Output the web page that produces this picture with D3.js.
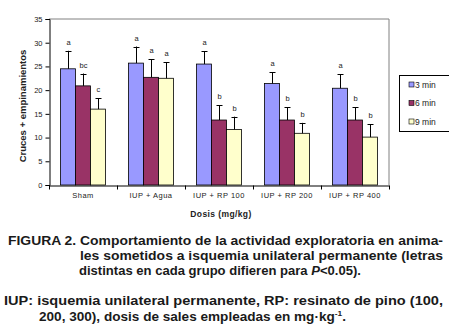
<!DOCTYPE html>
<html><head><meta charset="utf-8">
<script src="https://cdn.jsdelivr.net/npm/d3@7"></script>
<style>body{margin:0;background:#fff;} svg{display:block;}</style>
</head><body>
<svg id="c" width="449" height="336"></svg>
<script>
const categories = ["Sham","IUP + Agua","IUP + RP 100","IUP + RP 200","IUP + RP 400"];
const seriesNames = ["3 min","6 min","9 min"];
const seriesColors = ["#9999FF","#993366","#FFFFCC"];
const v3 = [24.5, 25.7, 25.5, 21.4, 20.4];
const v6 = [20.9, 22.7, 13.7, 13.7, 13.7];
const v9 = [16.0, 22.5, 11.7, 10.9, 10.1];
const e3 = [3.8, 3.5, 2.7, 2.4, 2.9];
const e6 = [2.6, 3.8, 3.1, 2.7, 2.7];
const e9 = [2.3, 3.4, 2.7, 2.2, 2.7];
const l3 = ["a","a","a","a","a"];
const l6 = ["bc","a","b","b","b"];
const l9 = ["c","a","b","b","b"];
const yTicks = [0,5,10,15,20,25,30,35];
const yTitle = "Cruces + empinamientos";
const xTitle = "Dosis (mg/kg)";

const vals = [v3,v6,v9], errs=[e3,e6,e9], lets=[l3,l6,l9];
const data = [];
categories.forEach((c,i)=>seriesNames.forEach((s,j)=>data.push({c,s,j,v:vals[j][i],e:errs[j][i],l:lets[j][i]})));

const svg = d3.select("#c");
const L=49,R=389,T=19,B=185;
const x = d3.scaleBand().domain(categories).range([L,R]).padding(0);
const xi = d3.scaleBand().domain(seriesNames).range([0,x.bandwidth()]).paddingInner(0).paddingOuter(0.767);
const y = d3.scaleLinear().domain([0,35]).range([B,T]);
const font = "'Liberation Sans', Arial, sans-serif";

// plot border
svg.append("path").attr("d",`M${L},${T}H${R}V${B}`).attr("fill","none").attr("stroke","#808080").attr("stroke-width",1);

// bars
svg.append("g").selectAll("rect").data(data).join("rect")
 .attr("x",d=>x(d.c)+xi(d.s)).attr("width",xi.bandwidth())
 .attr("y",d=>y(d.v)).attr("height",d=>y(0)-y(d.v))
 .attr("fill",d=>seriesColors[d.j]).attr("stroke","#000").attr("stroke-width",0.8);

// error bars
const eg = svg.append("g").attr("stroke","#000").attr("stroke-width",1);
data.forEach(d=>{
  const cx = Math.round(x(d.c)+xi(d.s)+xi.bandwidth()/2)+0.5;
  eg.append("line").attr("x1",cx).attr("x2",cx).attr("y1",y(d.v)).attr("y2",y(d.v+d.e));
  eg.append("line").attr("x1",cx-3).attr("x2",cx+3).attr("y1",Math.round(y(d.v+d.e))+0.5).attr("y2",Math.round(y(d.v+d.e))+0.5);
});
// letters
svg.append("g").selectAll("text").data(data).join("text")
 .attr("x",d=>x(d.c)+xi(d.s)+xi.bandwidth()/2+0.5).attr("y",d=>y(d.v+d.e)-6)
 .attr("text-anchor","middle").attr("font-family",font).attr("font-size",7.5).attr("fill","#222").text(d=>d.l);

// y axis
const ya = svg.append("g").attr("transform",`translate(${L+0.5},0)`)
 .call(d3.axisLeft(y).tickValues(yTicks).tickSize(4).tickPadding(3));
ya.select(".domain").attr("stroke","#000");
ya.selectAll("text").attr("font-family",font).attr("font-size",7.5).attr("fill","#222");
// x axis
const xa = svg.append("g").attr("transform",`translate(0,${B+0.5})`)
 .call(d3.axisBottom(x).tickSize(0).tickPadding(7));
xa.select(".domain").attr("stroke","#000");
xa.selectAll("text").attr("font-family",font).attr("font-size",7.5).attr("letter-spacing",0.5).attr("fill","#222");
xa.selectAll(".sep").data(categories.concat(["_end"])).join("line").attr("class","sep")
 .attr("x1",(d,i)=>L+i*x.step()+0.5).attr("x2",(d,i)=>L+i*x.step()+0.5).attr("y1",0).attr("y2",4).attr("stroke","#000");

// titles
svg.append("text").attr("transform",`translate(26,${(T+B)/2 + 4}) rotate(-90)`).attr("text-anchor","middle")
 .attr("font-family",font).attr("font-weight","bold").attr("font-size",9.5).attr("fill","#222").text(yTitle);
svg.append("text").attr("x",221).attr("y",217).attr("text-anchor","middle")
 .attr("font-family",font).attr("font-weight","bold").attr("font-size",8.5).attr("letter-spacing",0.4).attr("fill","#222").text(xTitle);

// legend
svg.append("rect").attr("x",399.5).attr("y",75.5).attr("width",80).attr("height",56).attr("fill","#fff").attr("stroke","#000").attr("stroke-width",1);
const lg = svg.append("g").selectAll("g").data(seriesNames).join("g").attr("transform",(d,i)=>`translate(409,${84.5+i*18.5})`);
lg.append("rect").attr("x",0).attr("y",-2.5).attr("width",5).attr("height",5).attr("fill",(d,i)=>seriesColors[i]).attr("stroke","#000").attr("stroke-width",0.6);
lg.append("text").attr("x",6).attr("y",3).attr("font-family",font).attr("font-size",8.5).attr("fill","#222").text(d=>d);

// caption
const cap = svg.append("g").attr("font-family",font).attr("font-weight","bold").attr("font-size",13).attr("fill","#1a1a1a");
function line(xp,yp,len,parts){
  const t = cap.append("text").attr("x",xp).attr("y",yp).attr("textLength",len).attr("lengthAdjust","spacingAndGlyphs");
  parts.forEach(p=>{const s=t.append("tspan").text(p.t); if(p.i) s.attr("font-style","italic");});
  return t;
}
line(8,244.5,435,[{t:"FIGURA 2. Comportamiento de la actividad exploratoria en anima-"}]);
line(80,259.5,363,[{t:"les sometidos a isquemia unilateral permanente (letras"}]);
line(79,274.5,282,[{t:"distintas en cada grupo difieren para "},{t:"P",i:true},{t:"<0.05)."}]);
line(4,305,439,[{t:"IUP: isquemia unilateral permanente, RP: resinato de pino (100,"}]);
const t5 = cap.append("text").attr("x",39).attr("y",320.5).attr("textLength",307).attr("lengthAdjust","spacingAndGlyphs");
t5.append("tspan").text("200, 300), dosis de sales empleadas en mg·kg");
t5.append("tspan").attr("font-size",8).attr("dy",-5).text("-1");
t5.append("tspan").attr("dy",5).text(".");
</script>
</body></html>
